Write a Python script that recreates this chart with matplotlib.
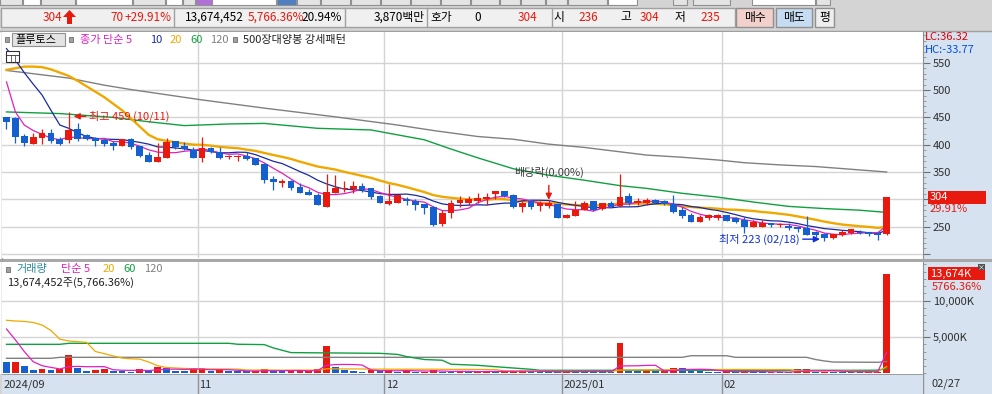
import numpy as np
import pandas as pd
import matplotlib
matplotlib.use('Agg')
import matplotlib.pyplot as plt
from matplotlib.patches import Rectangle, Polygon
from matplotlib.ticker import MultipleLocator, FuncFormatter

plt.rcParams['font.family'] = ['Noto Sans CJK KR', 'DejaVu Sans']

# ---------------- data ----------------
open_ = np.array([450, 449, 416, 402, 413, 421, 410, 409, 429, 418,
                  413, 409, 403, 398, 410, 398, 381, 369, 376, 406,
                  398, 390, 376, 394, 387, 377, 377, 379, 375, 365,
                  337, 329, 334, 323, 314, 308, 286, 312, 319, 319,
                  324, 321, 306, 292, 294, 300, 296, 291, 286, 254,
                  274, 294, 294, 296, 300, 309, 315, 308, 285, 296,
                  288, 287, 291, 266, 270, 280, 296, 282, 294, 288,
                  306, 293, 294, 298, 297, 292, 280, 271, 259, 265,
                  265, 271, 265, 262, 250, 250, 256, 253, 252, 248,
                  247, 241, 237, 229, 235, 239, 241, 240, 238, 236])
high = np.array([450, 450, 419, 421, 429, 429, 414, 459, 440, 419,
                 415, 410, 407, 411, 413, 398, 386, 404, 413, 407,
                 405, 395, 414, 396, 395, 382, 382, 386, 376, 366,
                 343, 338, 335, 330, 318, 312, 346, 345, 334, 334,
                 330, 321, 308, 328, 308, 305, 300, 292, 288, 281,
                 299, 306, 306, 311, 311, 315, 315, 309, 297, 299,
                 296, 298, 292, 273, 296, 297, 297, 294, 296, 346,
                 311, 302, 302, 301, 298, 307, 286, 274, 271, 273,
                 273, 272, 268, 268, 262, 263, 257, 257, 257, 249,
                 270, 242, 238, 237, 243, 246, 243, 241, 240, 304])
low = np.array([428, 404, 398, 402, 401, 404, 400, 404, 407, 408,
                398, 398, 390, 398, 393, 378, 369, 369, 376, 392,
                391, 376, 369, 384, 374, 373, 371, 372, 363, 330,
                317, 323, 317, 312, 307, 290, 285, 311, 314, 312,
                313, 300, 294, 290, 293, 290, 280, 273, 252, 251,
                266, 286, 290, 293, 290, 300, 304, 284, 277, 282,
                279, 284, 266, 266, 270, 280, 279, 281, 285, 286,
                290, 290, 290, 292, 290, 275, 265, 259, 259, 262,
                262, 260, 257, 238, 249, 249, 250, 250, 243, 240,
                234, 231, 223, 228, 233, 237, 236, 233, 226, 235])
close = np.array([441, 415, 403, 414, 421, 407, 401, 427, 410, 411,
                  407, 402, 398, 410, 396, 380, 369, 377, 405, 396,
                  393, 376, 394, 386, 376, 380, 380, 374, 363, 336,
                  332, 334, 321, 312, 307, 290, 313, 321, 321, 325,
                  317, 305, 294, 296, 308, 296, 290, 284, 253, 274,
                  294, 298, 300, 302, 304, 315, 306, 285, 293, 286,
                  294, 293, 266, 272, 280, 294, 280, 293, 286, 304,
                  293, 297, 298, 294, 291, 276, 270, 259, 268, 271,
                  271, 261, 259, 250, 258, 256, 253, 255, 247, 246,
                  234, 235, 229, 236, 241, 245, 238, 236, 234, 304])
# volume, thousand shares
volume = np.array([1600, 1610, 1000, 450, 560, 450, 540, 2520, 700, 330,
                   450, 600, 370, 360, 230, 590, 370, 830, 750, 340,
                   330, 680, 690, 380, 420, 300, 280, 270, 290, 620,
                   320, 300, 350, 360, 380, 590, 3800, 880, 450, 320,
                   220, 450, 360, 450, 220, 450, 220, 240, 450, 220,
                   200, 260, 220, 260, 300, 250, 300, 320, 340, 250,
                   200, 150, 140, 380, 300, 250, 200, 180, 170, 4215,
                   360, 250, 450, 250, 280, 770, 760, 590, 360, 150,
                   140, 320, 150, 350, 220, 150, 160, 140, 130, 590,
                   600, 220, 230, 220, 210, 200, 190, 220, 237, 13674])
last_volume_shares = 13674452

# moving-average values before a full window exists
ma5_head = [515, 460, 436, 426]
ma10_head = [576, 555, 532, 511, 491, 463, 436, 430, 422]
ma20_head = [537, 540, 543, 543, 542, 538, 532, 526, 517, 507,
             497, 487, 475, 463, 448, 433, 418, 410, 407]
ma60_idx = [0, 6, 12, 16, 20, 25, 29, 35, 41, 44, 47, 50, 53, 57, 61,
            65, 69, 72, 76, 80, 84, 88, 92, 96, 99]
ma60_val = [460, 457, 450, 442, 435, 438, 439, 430, 427, 418, 409, 392, 376,
            356, 344, 335, 325, 320, 311, 304, 295, 287, 283, 280, 276]
ma120_idx = [0, 2, 7, 11, 14, 22, 29, 37, 44, 48, 53, 57, 61, 65, 68, 72,
             76, 80, 83, 87, 91, 95, 99]
ma120_val = [536, 532, 522, 509, 501, 482, 467, 451, 436, 426, 415, 410, 401,
             395, 389, 381, 377, 372, 367, 363, 360, 355, 350]

vol_ma5_head = [6100, 4600, 3000, 1600]
vol_ma20_head = [7300, 7200, 7150, 7000, 6650, 5900, 4700, 4450, 4350, 4270,
                 3000, 2700, 2400, 2100, 2000, 1950, 1550, 1050, 800]
vol_ma60_idx = [0, 6, 7, 25, 26, 29, 30, 32, 42, 44, 45, 47, 49, 50, 53, 55,
                57, 59, 60, 95, 97, 98, 99]
vol_ma60_val = [3990, 3990, 4130, 4130, 4000, 3950, 3500, 2850, 2750, 2600,
                2300, 1900, 1800, 1250, 1100, 910, 730, 550, 413, 413, 420,
                440, 650]
vol_ma120_idx = [0, 5, 6, 76, 77, 81, 82, 90, 91, 92, 93, 98, 99]
vol_ma120_val = [2065, 2065, 2200, 2200, 2420, 2420, 2200, 2200, 1900, 1700,
                 1550, 1515, 1630]

month_labels = ['2024/09', '11', '12', '2025/01', '02']
month_first_idx = [0, 22, 43, 63, 81]
last_date = '02/27'
high_date = '10/11'
low_date = '02/18'
dividend_idx = 61

RED = '#E8190E'
BLUE = '#1560CF'
C5, C10, C20, C60, C120 = '#E020C0', '#1A2AA0', '#F0A800', '#10A040', '#808080'
AXBG = '#D6E2F0'


def sma(values, n, head):
    s = pd.Series(values, dtype=float).rolling(n).mean().to_numpy()
    s[:n - 1] = head
    return s


ma5 = sma(close, 5, ma5_head)
ma10 = sma(close, 10, ma10_head)
ma20 = sma(close, 20, ma20_head)
vma5 = sma(volume, 5, vol_ma5_head)
vma20 = sma(volume, 20, vol_ma20_head)

x = np.arange(len(close))
up = close >= open_
candle_col = np.where(up, RED, BLUE)
vol_up = np.r_[False, volume[1:] > volume[:-1]]
vol_col = np.where(vol_up, RED, BLUE)

# ---------------- figure ----------------
W, H = 992, 394
fig = plt.figure(figsize=(W / 100, H / 100), dpi=100)
fig.patch.set_facecolor('#D4D4D4')


def rect(x0, y0, x1, y1):
    return [x0 / W, 1 - y1 / H, (x1 - x0) / W, (y1 - y0) / H]


bg = fig.add_axes([0, 0, 1, 1], zorder=0)
bg.set_xlim(0, W)
bg.set_ylim(H, 0)
bg.axis('off')

# top toolbar strip
strip = [(0, 22, '#E4E4E4'), (23, 40, 'white'), (41, 75, '#E4E4E4'), (76, 132, 'white'),
         (133, 165, '#E4E4E4'), (166, 182, 'white'), (183, 195, '#E4E4E4'), (196, 212, '#B070D8'),
         (212, 276, 'white'), (277, 296, '#4F7FC0'), (297, 320, '#E4E4E4'), (321, 350, '#E4E4E4'),
         (351, 380, '#E4E4E4'), (381, 410, '#E4E4E4'), (411, 440, '#E4E4E4'), (441, 470, '#E4E4E4'),
         (471, 499, '#E4E4E4'), (500, 520, '#E4E4E4'), (521, 545, '#E4E4E4'), (546, 567, '#E4E4E4'),
         (568, 607, '#E4E4E4'), (608, 637, 'white'), (673, 687, '#E4E4E4'), (693, 730, '#E4E4E4'),
         (752, 815, 'white'), (816, 830, '#E4E4E4')]
for x0, x1, c in strip:
    bg.add_patch(Rectangle((x0, -2), x1 - x0, 7, facecolor=c, edgecolor='#909090', lw=0.8))

# info bar
bg.add_patch(Rectangle((0.5, 7.5), 734, 19, facecolor='#F0F0F0', edgecolor='#A0A0A0', lw=1))
for sx in [174, 345, 427, 552]:
    bg.plot([sx, sx], [8, 26], color='#A0A0A0', lw=1)
for x0, x1, c in [(736, 773, '#F2D0CC'), (776, 812, '#C6DCF2'), (815, 834, '#EEEEEE')]:
    bg.add_patch(Rectangle((x0, 7.5), x1 - x0, 19, facecolor=c, edgecolor='#909090', lw=1))

# chart areas
bg.add_patch(Rectangle((0, 31), 923, 343, facecolor='white', edgecolor='none'))
bg.add_patch(Rectangle((923, 31), 69, 363, facecolor=AXBG, edgecolor='none'))
bg.plot([0, 992], [31, 31], color='#A0A0A0', lw=1)
bg.plot([0, 992], [259.5, 259.5], color='#A8A8A8', lw=2.2)
bg.plot([2, 2], [31, 374], color='#A0A0A0', lw=1)

# ---------------- price panel ----------------
ax = fig.add_axes(rect(2, 32, 923, 258), zorder=2)
ax.set_facecolor('white')
ax.set_xlim(-0.506, 103.09)
ax.set_ylim(192.5, 606.4)

ax.plot(ma120_idx, ma120_val, color=C120, lw=1, zorder=2)
ax.plot(ma60_idx, ma60_val, color=C60, lw=1, zorder=2)
ax.plot(x, ma20, color=C20, lw=1.7, zorder=2)
ax.plot(x, ma10, color=C10, lw=0.9, zorder=2)
ax.plot(x, ma5, color=C5, lw=0.9, zorder=2)

ax.vlines(x, low, high, color=candle_col, lw=0.9, zorder=3)
body = np.maximum(np.abs(close - open_), 2.5)
ax.bar(x, body, bottom=np.minimum(open_, close), width=0.76, color=candle_col,
       linewidth=0, zorder=4)

ax.yaxis.tick_right()
ax.set_yticks(np.arange(200, 551, 50))
# 200 is not labelled, 300 sits under the last-price box
ax.yaxis.set_major_formatter(FuncFormatter(lambda v, p: '' if v in (200, 300) else f'{v:.0f}'))
ax.yaxis.set_minor_locator(MultipleLocator(10))
ax.tick_params(axis='y', which='major', direction='out', length=5, width=0.8, color='#707070',
               labelsize=8, labelcolor='#303030', pad=2)
ax.tick_params(axis='y', which='minor', direction='out', length=2.5, width=0.6, color='#909090')
ax.set_xticks([])
ax.grid(axis='y', color='#D4D4D4', lw=1, zorder=0)
for m in month_first_idx[1:]:
    ax.axvline(m - 0.5, color='#D4D4D4', lw=1, zorder=0)
for s in ['top', 'bottom', 'left']:
    ax.spines[s].set_visible(False)
ax.spines['right'].set_color('#909090')

hi_i = int(np.argmax(high))
ax.annotate(f'최고 {high[hi_i]} ({high_date})', xy=(hi_i + 0.55, high[hi_i] - 7),
            xytext=(15, 0), textcoords='offset pixels', ha='left', va='center',
            color=RED, fontsize=8, zorder=6,
            arrowprops=dict(arrowstyle='-|>', color=RED, lw=1, mutation_scale=9,
                            shrinkA=0, shrinkB=0))
lo_i = int(np.argmin(low))
ax.annotate(f'최저 {low[lo_i]} ({low_date})', xy=(lo_i - 0.5, low[lo_i] + 4),
            xytext=(-20, 0), textcoords='offset pixels', ha='right', va='center',
            color='#1030E0', fontsize=8, zorder=6,
            arrowprops=dict(arrowstyle='-|>', color='#1030E0', lw=1, mutation_scale=9,
                            shrinkA=0, shrinkB=0))
ax.annotate('배당락(0.00%)', xy=(dividend_idx, high[dividend_idx] + 1),
            xytext=(0, 27), textcoords='offset pixels', ha='center', va='center',
            color='#404040', fontsize=8, zorder=6,
            arrowprops=dict(arrowstyle='-|>', color=RED, lw=1, mutation_scale=9,
                            shrinkA=3, shrinkB=0))

# ---------------- volume panel ----------------
vx = fig.add_axes(rect(2, 262, 923, 374), zorder=2)
vx.set_facecolor('white')
vx.set_xlim(-0.506, 103.09)
vx.set_ylim(-96, 15326)
vx.bar(x, volume, width=0.76, color=vol_col, linewidth=0, zorder=3)
vx.plot(vol_ma120_idx, vol_ma120_val, color=C120, lw=1, zorder=4)
vx.plot(vol_ma60_idx, vol_ma60_val, color=C60, lw=1, zorder=4)
vx.plot(x, vma20, color=C20, lw=0.9, zorder=4)
vx.plot(x, vma5, color=C5, lw=0.9, zorder=4)
vx.yaxis.tick_right()
vx.set_yticks([5000, 10000])
vx.yaxis.set_major_formatter(FuncFormatter(lambda v, p: f'{v:,.0f}K'))
vx.yaxis.set_minor_locator(MultipleLocator(1000))
vx.tick_params(axis='y', which='major', direction='out', length=5, width=0.8, color='#707070',
               labelsize=8, labelcolor='#303030', pad=2)
vx.tick_params(axis='y', which='minor', direction='out', length=2.5, width=0.6, color='#909090')
vx.set_xticks([])
vx.grid(axis='y', color='#D4D4D4', lw=1, zorder=0)
for m in month_first_idx[1:]:
    vx.axvline(m - 0.5, color='#D4D4D4', lw=1, zorder=0)
for s in ['top', 'bottom', 'left']:
    vx.spines[s].set_visible(False)
vx.spines['right'].set_color('#909090')

# ---------------- date band ----------------
bx = fig.add_axes(rect(2, 374, 923, 394), zorder=2)
bx.set_facecolor(AXBG)
bx.set_xlim(-0.506, 103.09)
bx.set_ylim(0, 1)
bx.set_xticks([])
bx.set_yticks([])
for s in bx.spines.values():
    s.set_visible(False)
bx.axhline(1, color='#909090', lw=1.2)
for m, lab in zip(month_first_idx, month_labels):
    if m > 0:
        bx.axvline(m - 0.5, color='#909090', lw=1)
    bx.text(m - 0.5 + 0.2, 0.47, lab, ha='left', va='center', fontsize=8, color='#303030')

# ---------------- overlay texts ----------------
ov = fig.add_axes([0, 0, 1, 1], zorder=10)
ov.set_xlim(0, W)
ov.set_ylim(H, 0)
ov.axis('off')
ov.patch.set_alpha(0)

fs = 8.5
for tx, s, col, ha in [(62, '304', RED, 'right'), (124, '70', RED, 'right'),
                       (172, '+29.91%', RED, 'right'), (244, '13,674,452', 'black', 'right'),
                       (304, '5,766.36%', RED, 'right'), (342, '20.94%', 'black', 'right'),
                       (425, '3,870백만', 'black', 'right'), (430, '호가', 'black', 'left'),
                       (481, '0', 'black', 'right'), (537, '304', RED, 'right'),
                       (553, '시', 'black', 'left'), (598, '236', RED, 'right'),
                       (620, '고', 'black', 'left'), (659, '304', RED, 'right'),
                       (675, '저', 'black', 'left'), (720, '235', RED, 'right')]:
    ov.text(tx, 17, s, color=col, ha=ha, va='center', fontsize=fs)
ov.add_patch(Polygon([(63, 17), (69.5, 10), (76, 17), (72, 17), (72, 24), (67, 24), (67, 17)],
                     closed=True, facecolor=RED, edgecolor='none'))
for cx, s in [(754.5, '매수'), (794, '매도'), (824.5, '평')]:
    ov.text(cx, 17, s, ha='center', va='center', fontsize=fs, color='black')

# price legend
ov.add_patch(Rectangle((5, 37), 4, 5, facecolor='#A0A0A0', edgecolor='#707070', lw=0.6))
ov.add_patch(Rectangle((12, 32.5), 53, 13.5, facecolor='#E4E4E4', edgecolor='#909090', lw=0.8))
ov.text(15, 39.5, '플루토스', ha='left', va='center', fontsize=8, color='black')
ov.add_patch(Rectangle((69, 37), 4, 5, facecolor='#A0A0A0', edgecolor='#707070', lw=0.6))
for tx, s, col in [(80, '종가 단순 5', C5), (150, '10', C10), (170, '20', C20),
                   (190, '60', C60), (210, '120', C120)]:
    ov.text(tx, 39.5, s, ha='left', va='center', fontsize=8, color=col)
ov.add_patch(Rectangle((233, 37), 4, 5, facecolor='#A0A0A0', edgecolor='#707070', lw=0.6))
ov.text(243, 39.5, '500장대양봉 강세패턴', ha='left', va='center', fontsize=8, color='#202020')
ov.add_patch(Rectangle((6, 51), 13, 11, facecolor='white', edgecolor='#303030', lw=0.8))
ov.plot([6, 19], [54.5, 54.5], color='#303030', lw=0.6)
ov.plot([10.5, 10.5], [54.5, 62], color='#303030', lw=0.5)
ov.plot([14.5, 14.5], [54.5, 62], color='#303030', lw=0.5)

# volume legend
ov.add_patch(Rectangle((6, 266.5), 4, 5, facecolor='#A0A0A0', edgecolor='#707070', lw=0.6))
for tx, s, col in [(16, '거래량', '#2A8C9C'), (61, '단순 5', C5), (103, '20', C20),
                   (123, '60', C60), (144, '120', C120)]:
    ov.text(tx, 269, s, ha='left', va='center', fontsize=8, color=col)
ov.text(7, 282.5, f'{last_volume_shares:,}주(5,766.36%)', ha='left', va='center',
        fontsize=8, color='#202020')

# right axis texts
ov.text(925, 36.5, 'LC:36.32', ha='left', va='center', fontsize=8, color='#E00000')
ov.text(925, 49.5, 'HC:-33.77', ha='left', va='center', fontsize=8, color='#0050E0')

to_px = ov.transData.inverted()
_, yc = to_px.transform(ax.transData.transform((0, close[-1])))
ov.add_patch(Rectangle((928, yc - 6.5), 58, 13, facecolor=RED, edgecolor='none'))
ov.text(930, yc, f'{close[-1]}', ha='left', va='center', fontsize=8, color='white')
ov.text(930, yc + 12, '29.91%', ha='left', va='center', fontsize=8, color=RED)

_, yv = to_px.transform(vx.transData.transform((0, volume[-1])))
ov.add_patch(Rectangle((928, yv - 6.5), 57, 13, facecolor=RED, edgecolor='none'))
ov.text(930, yv, f'{volume[-1]:,}K', ha='left', va='center', fontsize=8, color='white')
ov.text(932, yv + 13, '5766.36%', ha='left', va='center', fontsize=8, color=RED)
ov.add_patch(Rectangle((978, 264), 7, 6, facecolor='#505050', edgecolor='none'))
ov.text(981.5, 267, '×', ha='center', va='center', fontsize=5, color='white')

ov.text(932, 384, last_date, ha='left', va='center', fontsize=8, color='#303030')
bg.plot([923, 923], [374, 394], color='#909090', lw=1)

fig.savefig('out.png', dpi=100, facecolor=fig.get_facecolor())
